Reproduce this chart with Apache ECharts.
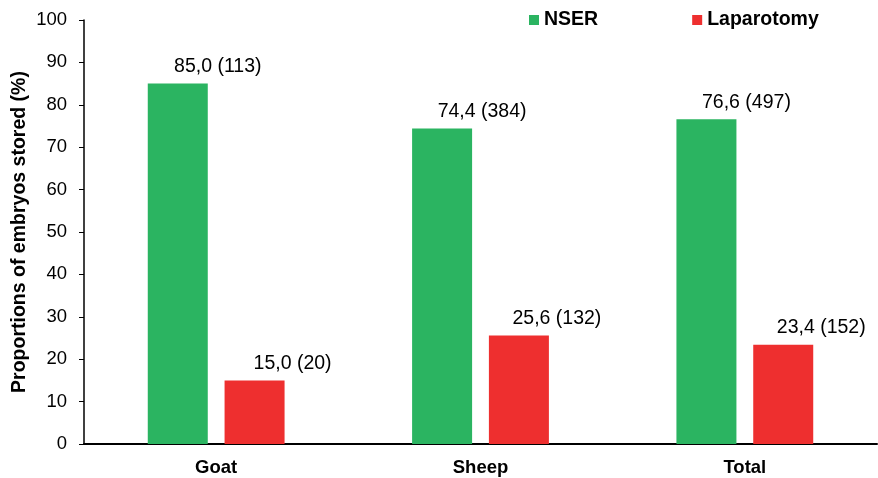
<!DOCTYPE html>
<html><head><meta charset="utf-8">
<script src="https://cdn.jsdelivr.net/npm/echarts@6/dist/echarts.min.js"></script>
<style>html,body{margin:0;padding:0;background:#fff}#c{width:878px;height:478px}</style>
</head><body><div id="c"></div>
<script>
const categories = ['Goat', 'Sheep', 'Total'];
const nserValues = [85.0, 74.4, 76.6];
const nserCounts = [113, 384, 497];
const lapValues = [15.0, 25.6, 23.4];
const lapCounts = [20, 132, 152];
const yTicks = [0, 10, 20, 30, 40, 50, 60, 70, 80, 90, 100];

const fmt = (counts) => (p) => p.value.toFixed(1).replace('.', ',') + ' (' + counts[p.dataIndex] + ')';
const font = 'Liberation Sans, Arial, sans-serif';
const chart = echarts.init(document.getElementById('c'));
chart.setOption({
  animation: false,
  textStyle: { fontFamily: font },
  legend: {
    top: 5, left: 524, itemGap: 94, itemWidth: 10, itemHeight: 10,
    icon: 'rect',
    textStyle: { fontFamily: font, fontWeight: 'bold', fontSize: 19.5, color: '#000' },
    data: ['NSER', 'Laparotomy']
  },
  grid: { left: 84, right: 1, top: 20, bottom: 34, containLabel: false, outerBoundsMode: 'none' },
  xAxis: {
    type: 'category', data: categories,
    axisLine: { lineStyle: { color: '#000', width: 2 } },
    axisTick: { show: false },
    axisLabel: { fontFamily: font, fontWeight: 'bold', fontSize: 18.5, color: '#000', margin: 14 }
  },
  yAxis: {
    type: 'value', min: yTicks[0], max: yTicks[yTicks.length - 1], interval: 10,
    name: 'Proportions of embryos stored (%)', nameLocation: 'middle', nameGap: 54,
    nameMoveOverlap: false,
    nameTextStyle: { fontFamily: font, fontWeight: 'bold', fontSize: 19.5, color: '#000' },
    axisLine: { show: true, lineStyle: { color: '#000', width: 1.5 } },
    axisTick: { show: true, length: 5, lineStyle: { color: '#000' } },
    splitLine: { show: false },
    axisLabel: { fontFamily: font, fontSize: 18.5, color: '#000', margin: 17 }
  },
  series: [
    {
      name: 'NSER', type: 'bar', data: nserValues, barWidth: 60, barGap: '28%',
      itemStyle: { color: '#2bb461' },
      label: { show: true, position: 'top', offset: [40, -2], formatter: fmt(nserCounts),
        fontFamily: font, fontSize: 19.5, color: '#000' }
    },
    {
      name: 'Laparotomy', type: 'bar', data: lapValues, barWidth: 60, barGap: '28%',
      itemStyle: { color: '#ee2f2f' },
      label: { show: true, position: 'top', offset: [38, -2], formatter: fmt(lapCounts),
        fontFamily: font, fontSize: 19.5, color: '#000' }
    }
  ]
});
</script></body></html>
